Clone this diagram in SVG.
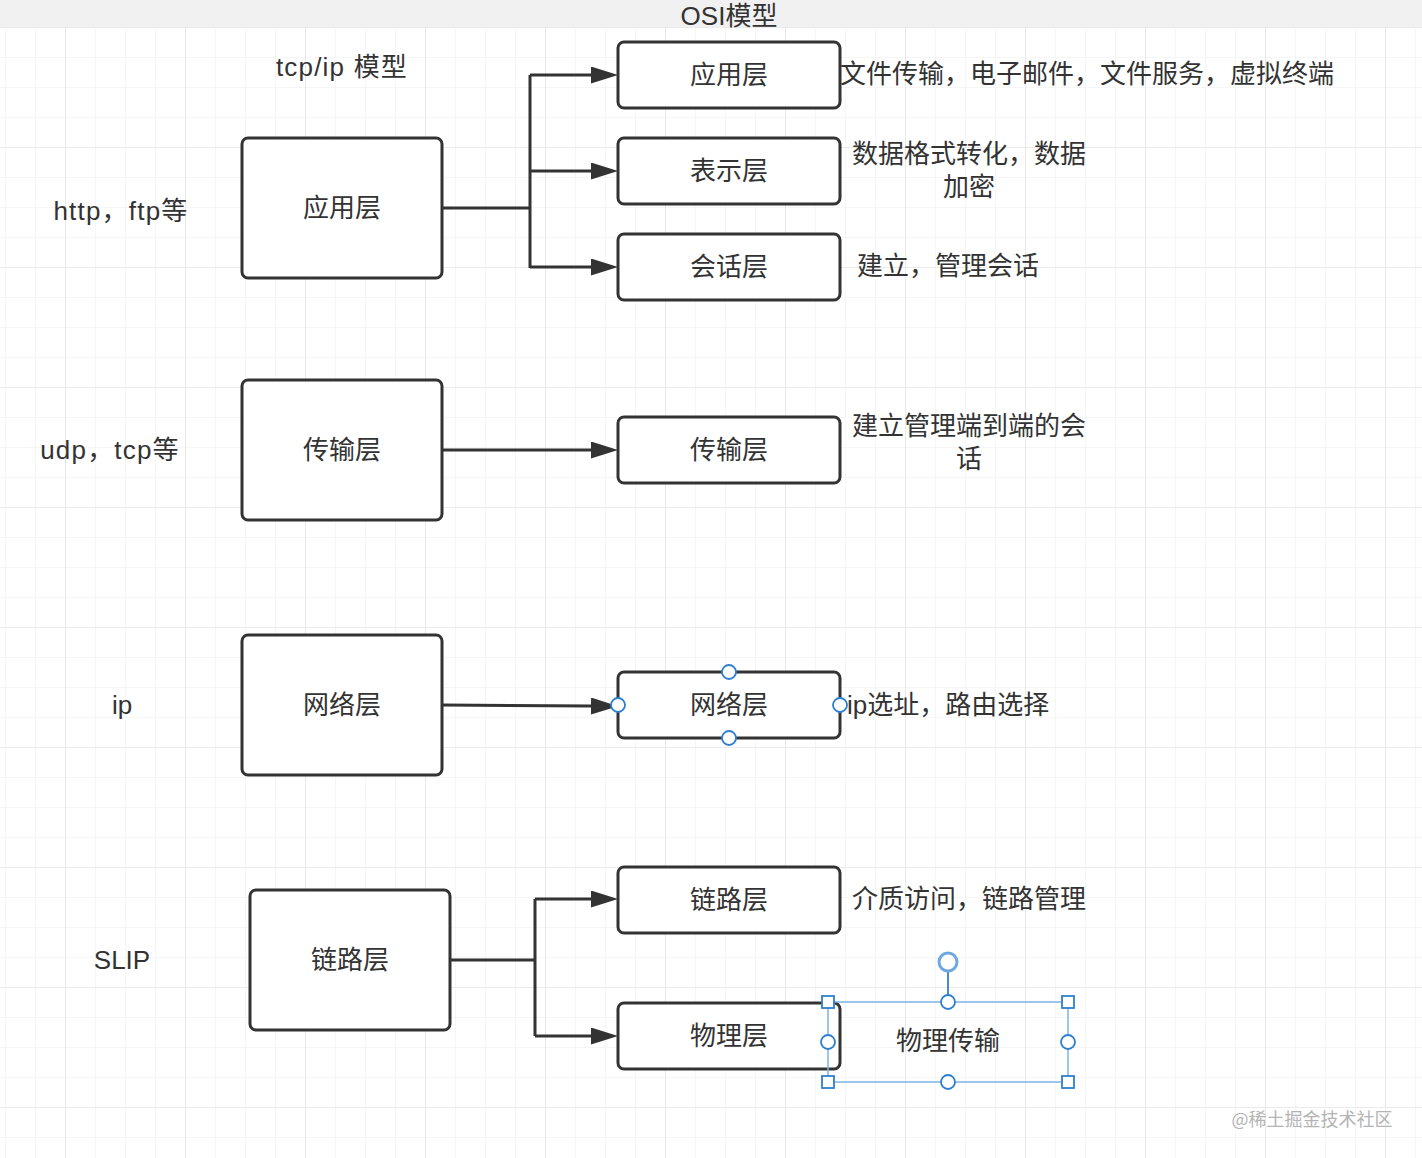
<svg xmlns="http://www.w3.org/2000/svg" width="1422" height="1158" viewBox="0 0 1422 1158">
<defs>
<style>
.box{fill:#fff;stroke:#333;stroke-width:3}
.conn{fill:none;stroke:#333;stroke-width:3}
.t{font-family:"Liberation Sans","Noto Sans CJK SC",sans-serif;font-size:26px;fill:#333;dominant-baseline:central}
.m{text-anchor:middle}
.ls{letter-spacing:1.2px}
.minor{stroke:#eeeeee;stroke-width:1}
.major{stroke:#e0e0e0;stroke-width:1.2}
.sel{fill:none;stroke:#7fb3e6;stroke-width:1.5}
.hc{fill:#fff;stroke:#2f7fd1;stroke-width:1.8}
</style>
<pattern id="gminor" x="5" y="27" width="30" height="30" patternUnits="userSpaceOnUse">
<path d="M0,0 H30 M0,0 V30" class="minor"/>
</pattern>
<pattern id="gmajor" x="65" y="27" width="120" height="120" patternUnits="userSpaceOnUse">
<path d="M0,0 H120 M0,0 V120" class="major"/>
</pattern>
<marker id="arr" markerUnits="userSpaceOnUse" markerWidth="28" markerHeight="18" refX="0" refY="8.5" orient="auto">
<path d="M0,0 L27,8.5 L0,17 Z" fill="#333"/>
</marker>
</defs>
<rect width="1422" height="1158" fill="#fff"/>
<rect y="27" width="1422" height="1131" fill="url(#gminor)"/>
<rect y="27" width="1422" height="1131" fill="url(#gmajor)"/>
<rect width="1422" height="27" fill="#f1f1f1"/>

<g id="connectors">
<path class="conn" d="M442,208 H530"/>
<path class="conn" d="M530,75 V268"/>
<path class="conn" d="M530,75 H591" marker-end="url(#arr)"/>
<path class="conn" d="M530,171 H591" marker-end="url(#arr)"/>
<path class="conn" d="M530,267 H591" marker-end="url(#arr)"/>
<path class="conn" d="M442,450 H591" marker-end="url(#arr)"/>
<path class="conn" d="M442,705 L591,706" marker-end="url(#arr)"/>
<path class="conn" d="M450,960 H535"/>
<path class="conn" d="M535,899 V1036"/>
<path class="conn" d="M535,899 H591" marker-end="url(#arr)"/>
<path class="conn" d="M535,1036 H591" marker-end="url(#arr)"/>
</g>

<g id="title-osi"><text class="t m" x="729" y="16">OSI模型</text></g>
<g id="title-tcpip"><text class="t m ls" x="342" y="67">tcp/ip 模型</text></g>

<g id="proto-app"><text class="t m ls" x="121" y="211">http，ftp等</text></g>
<g id="proto-trans"><text class="t m ls" x="110" y="450">udp，tcp等</text></g>
<g id="proto-net"><text class="t m" x="122" y="705">ip</text></g>
<g id="proto-link"><text class="t m" x="122" y="960">SLIP</text></g>

<g id="tcp-app"><rect class="box" x="242" y="138" width="200" height="140" rx="6"/><text class="t m" x="342" y="208">应用层</text></g>
<g id="tcp-trans"><rect class="box" x="242" y="380" width="200" height="140" rx="6"/><text class="t m" x="342" y="450">传输层</text></g>
<g id="tcp-net"><rect class="box" x="242" y="635" width="200" height="140" rx="6"/><text class="t m" x="342" y="705">网络层</text></g>
<g id="tcp-link"><rect class="box" x="250" y="890" width="200" height="140" rx="6"/><text class="t m" x="350" y="960">链路层</text></g>

<g id="osi-app"><rect class="box" x="618" y="42" width="222" height="66" rx="6"/><text class="t m" x="729" y="75">应用层</text></g>
<g id="osi-pres"><rect class="box" x="618" y="138" width="222" height="66" rx="6"/><text class="t m" x="729" y="171">表示层</text></g>
<g id="osi-sess"><rect class="box" x="618" y="234" width="222" height="66" rx="6"/><text class="t m" x="729" y="267">会话层</text></g>
<g id="osi-trans"><rect class="box" x="618" y="417" width="222" height="66" rx="6"/><text class="t m" x="729" y="450">传输层</text></g>
<g id="osi-net"><rect class="box" x="618" y="672" width="222" height="66" rx="6"/><text class="t m" x="729" y="705">网络层</text>
<circle class="hc" cx="729" cy="672" r="7"/><circle class="hc" cx="729" cy="738" r="7"/><circle class="hc" cx="618" cy="705" r="7"/><circle class="hc" cx="840" cy="705" r="7"/></g>
<g id="osi-link"><rect class="box" x="618" y="867" width="222" height="66" rx="6"/><text class="t m" x="729" y="900">链路层</text></g>
<g id="osi-phys"><rect class="box" x="618" y="1003" width="222" height="66" rx="6"/><text class="t m" x="729" y="1036">物理层</text></g>

<g id="desc-app"><text class="t" x="840" y="74">文件传输，电子邮件，文件服务，虚拟终端</text></g>
<g id="desc-pres"><text class="t m" x="969" y="154">数据格式转化，数据</text><text class="t m" x="969" y="187">加密</text></g>
<g id="desc-sess"><text class="t m" x="948" y="266">建立，管理会话</text></g>
<g id="desc-trans"><text class="t m" x="969" y="426">建立管理端到端的会</text><text class="t m" x="969" y="459">话</text></g>
<g id="desc-net"><text class="t" x="847" y="705">ip选址，路由选择</text></g>
<g id="desc-link"><text class="t m" x="969" y="899">介质访问，链路管理</text></g>
<g id="desc-phys">
<rect class="sel" x="828" y="1002" width="240" height="80"/>
<text class="t m" x="948" y="1041">物理传输</text>
<line x1="948" y1="971" x2="948" y2="995" stroke="#2f7fd1" stroke-width="1.8"/>
<circle cx="948" cy="962" r="9" fill="#fff" stroke="#6fa8e0" stroke-width="3"/>
<rect class="hc" x="822" y="996" width="12" height="12"/><rect class="hc" x="1062" y="996" width="12" height="12"/>
<rect class="hc" x="822" y="1076" width="12" height="12"/><rect class="hc" x="1062" y="1076" width="12" height="12"/>
<circle class="hc" cx="948" cy="1002" r="7"/><circle class="hc" cx="948" cy="1082" r="7"/>
<circle class="hc" cx="828" cy="1042" r="7"/><circle class="hc" cx="1068" cy="1042" r="7"/>
</g>

<g id="watermark"><text x="1312" y="1118" text-anchor="middle" dominant-baseline="central" font-family="'Noto Sans CJK SC',sans-serif" font-size="18" fill="#b4b4b4">@稀土掘金技术社区</text></g>
</svg>
